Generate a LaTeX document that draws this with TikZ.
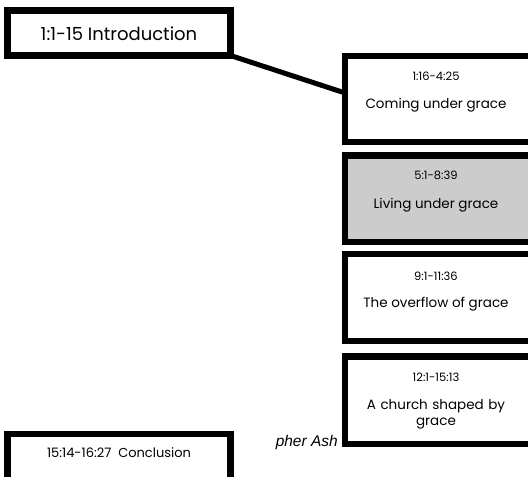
\documentclass[tikz,border=0pt]{standalone}
\usepackage{fontspec}
\setmainfont{Poppins}
\usetikzlibrary{calc}
\begin{document}
\begin{tikzpicture}[x=1pt,y=-1pt,
  frame/.style={draw=black, line width=6.5pt, rectangle, inner sep=0pt, outer sep=0pt},
  small/.style={font=\fontsize{11.5}{13}\selectfont, inner sep=0pt},
  mid/.style={font=\fontsize{13.5}{16}\selectfont, inner sep=0pt, align=center},
  conn/.style={draw=black, line width=5pt}]
\useasboundingbox (0,0) rectangle (528,477);
\clip (0,0) rectangle (528,477);
\fill[white] (0,0) rectangle (528,477);
% intro
\node[frame, minimum width=223pt, minimum height=45pt] (intro) at (119,33) {};
\node[font=\fontsize{18}{20}\selectfont, inner sep=0pt] (introt) at (119,34) {1:1-15 Introduction};
% boxes
\node[frame, minimum width=188pt, minimum height=86pt] (b1) at (439,99) {};
\node[frame, fill=black!20, minimum width=188pt, minimum height=86.5pt] (b2) at (439,198.75) {};
\node[frame, minimum width=188pt, minimum height=87pt] (b3) at (439,297.5) {};
\node[frame, minimum width=188pt, minimum height=87.5pt] (b4) at (439,400) {};
\node[frame, minimum width=223pt, minimum height=48pt] (concl) at (119,458) {};
% texts
\node[small] (b1a) at (436,76) {1:16-4:25};
\node[mid] (b1b) at (436,105) {Coming under grace};
\node[small] (b2a) at (436,175) {5:1-8:39};
\node[mid] (b2b) at (436,205) {Living under grace};
\node[small] (b3a) at (436,276) {9:1-11:36};
\node[mid] (b3b) at (436,304) {The overflow of grace};
\node[small] (b4a) at (436,377) {12:1-15:13};
\node[mid, text width=160pt] (b4b) at (436,414) {A church shaped by\\grace};
\node[font=\fontsize{13}{15}\selectfont, inner sep=0pt] (conclt) at (119,453) {15:14-16:27\ \ Conclusion};
\node[font=\fontspec{Liberation Sans}\itshape\fontsize{15.5}{17}\selectfont, inner sep=0pt, anchor=base east] (ash) at (338,446) {pher Ash};
% connector
\coordinate (c1) at ($(b1.north west)!0.43!(b1.south west)$);
\draw[conn] (intro.south east) -- (c1);
\end{tikzpicture}
\end{document}
